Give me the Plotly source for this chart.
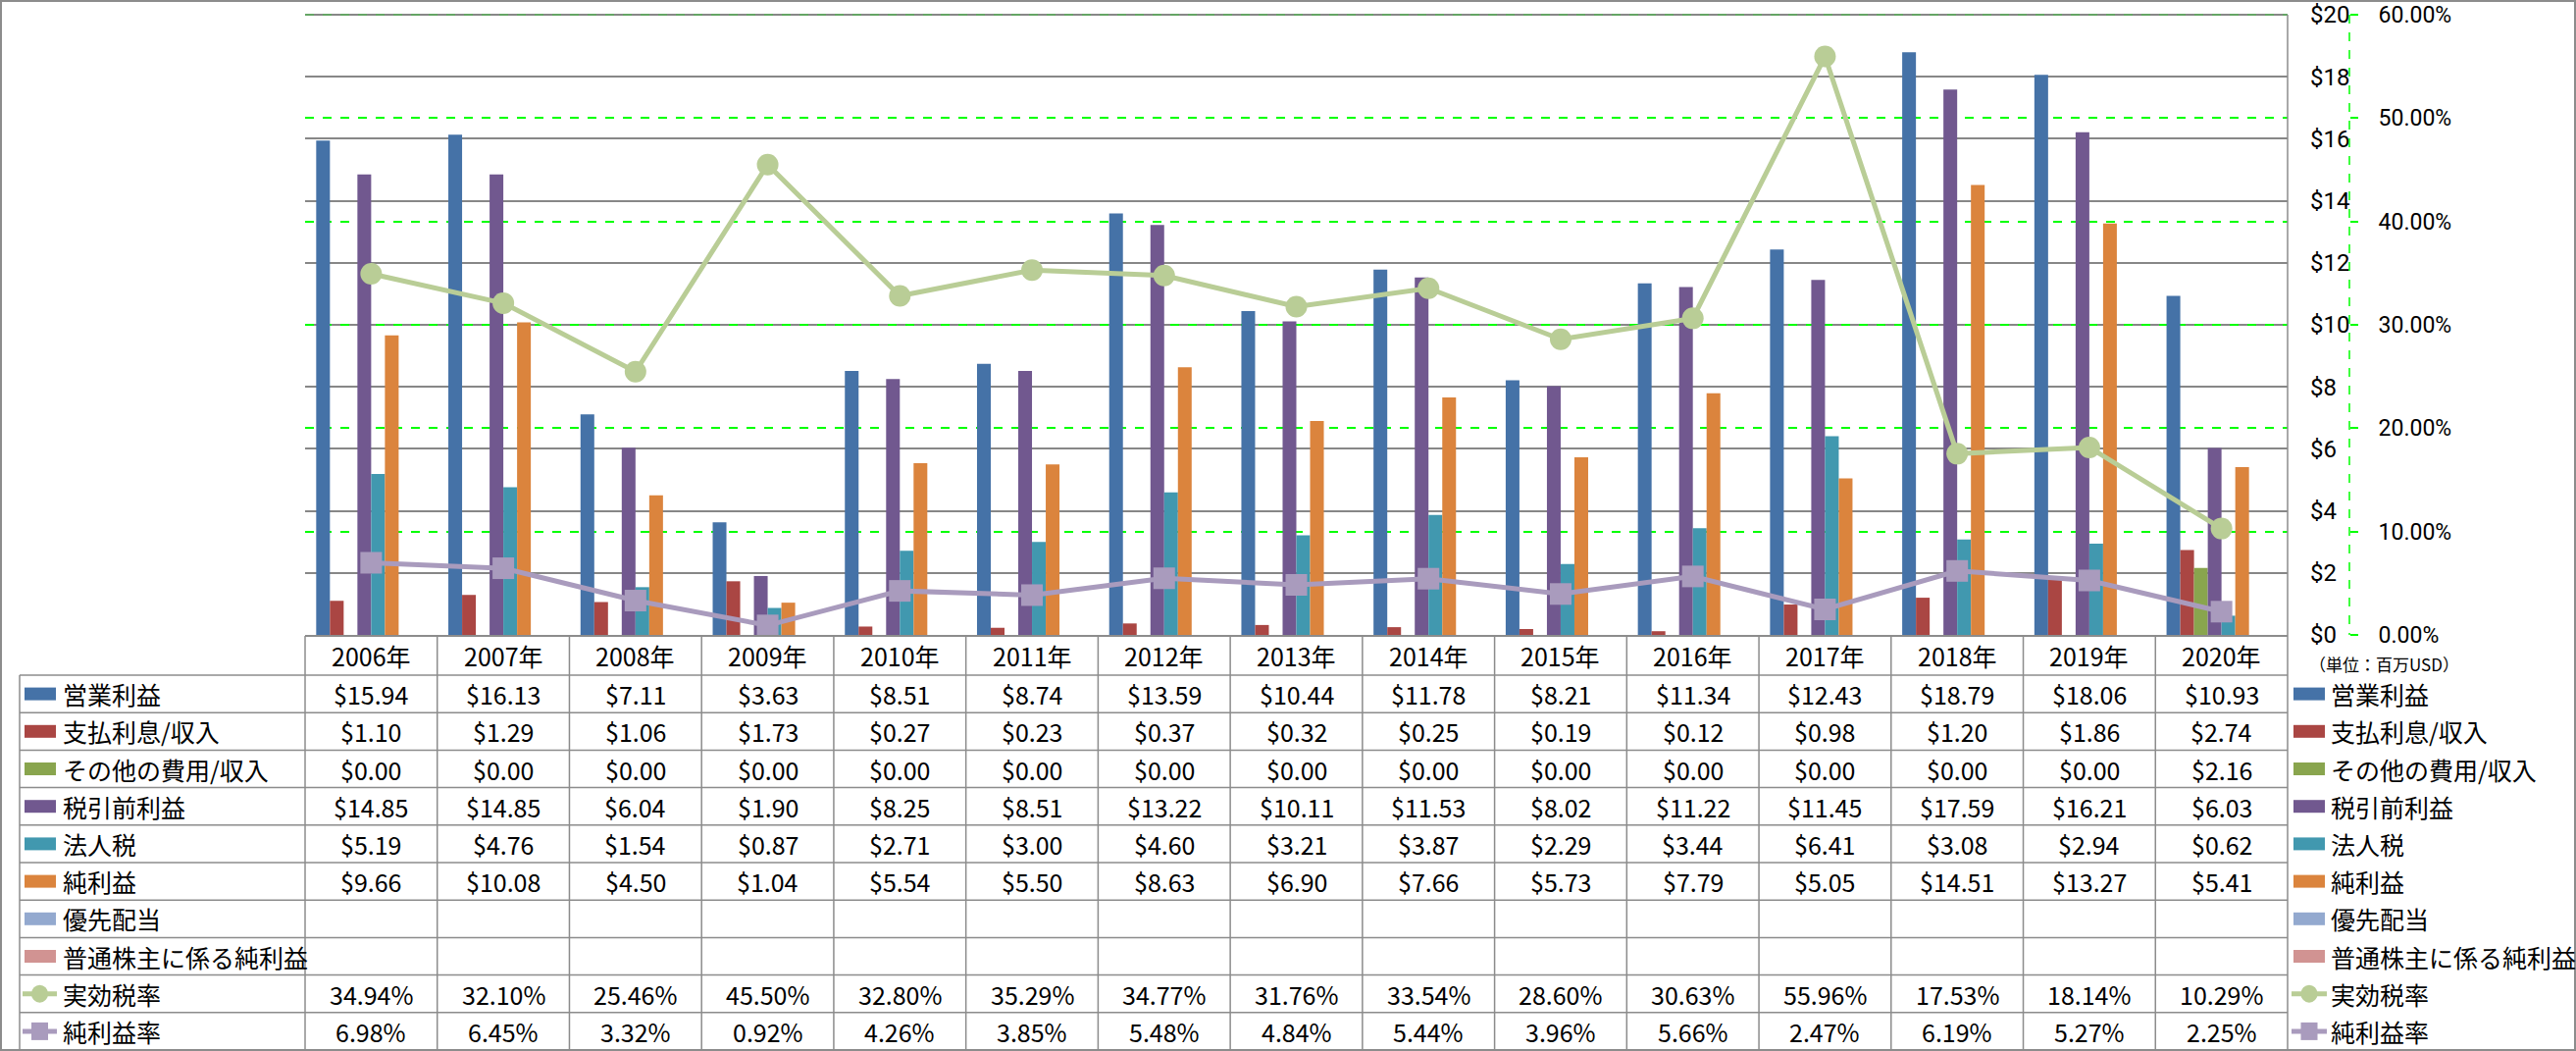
import plotly.graph_objects as go

# ---------------- data ----------------
years = ["2006年", "2007年", "2008年", "2009年", "2010年", "2011年", "2012年", "2013年",
         "2014年", "2015年", "2016年", "2017年", "2018年", "2019年", "2020年"]

op_income = [15.94, 16.13, 7.11, 3.63, 8.51, 8.74, 13.59, 10.44, 11.78, 8.21, 11.34, 12.43, 18.79, 18.06, 10.93]
interest = [1.10, 1.29, 1.06, 1.73, 0.27, 0.23, 0.37, 0.32, 0.25, 0.19, 0.12, 0.98, 1.20, 1.86, 2.74]
other_exp = [0.00, 0.00, 0.00, 0.00, 0.00, 0.00, 0.00, 0.00, 0.00, 0.00, 0.00, 0.00, 0.00, 0.00, 2.16]
pretax = [14.85, 14.85, 6.04, 1.90, 8.25, 8.51, 13.22, 10.11, 11.53, 8.02, 11.22, 11.45, 17.59, 16.21, 6.03]
corp_tax = [5.19, 4.76, 1.54, 0.87, 2.71, 3.00, 4.60, 3.21, 3.87, 2.29, 3.44, 6.41, 3.08, 2.94, 0.62]
net_income = [9.66, 10.08, 4.50, 1.04, 5.54, 5.50, 8.63, 6.90, 7.66, 5.73, 7.79, 5.05, 14.51, 13.27, 5.41]
pref_div = [None] * 15
common_net = [None] * 15
eff_tax_rate = [34.94, 32.10, 25.46, 45.50, 32.80, 35.29, 34.77, 31.76, 33.54, 28.60, 30.63, 55.96, 17.53, 18.14, 10.29]
net_margin = [6.98, 6.45, 3.32, 0.92, 4.26, 3.85, 5.48, 4.84, 5.44, 3.96, 5.66, 2.47, 6.19, 5.27, 2.25]

bar_names = ["営業利益", "支払利息/収入", "その他の費用/収入", "税引前利益", "法人税", "純利益",
             "優先配当", "普通株主に係る純利益"]
bar_values = [op_income, interest, other_exp, pretax, corp_tax, net_income, pref_div, common_net]
line_names = ["実効税率", "純利益率"]
line_values = [eff_tax_rate, net_margin]

usd_ticks = [0, 2, 4, 6, 8, 10, 12, 14, 16, 18, 20]
pct_ticks = [0, 0.1, 0.2, 0.3, 0.4, 0.5, 0.6]

# ---------------- styles ----------------
bar_colors = ["#4572A7", "#AA4643", "#89A54E", "#71588F", "#4198AF", "#DB843D", "#93A9CF", "#D19392"]
line_colors = ["#B9CD96", "#A99BBD"]
line_symbols = ["circle", "square"]
FONT = "Noto Sans CJK JP"
TICK_FONT = "Roboto"
GRID = "#878787"

W, H = 2626, 1071
PL, PR = 311, 2520          # paper left/right in px
PB = 647                    # plot bottom (value 0)
TOP_VAL_PX = 15             # pixel of the $20 / 60% gridline
EXTRA = 4                   # small headroom so the top gridline is drawn
PT = TOP_VAL_PX - EXTRA
USD_MAX = usd_ticks[-1] * (PB - PT) / (PB - TOP_VAL_PX)
PCT_MAX = pct_ticks[-1] * (PB - PT) / (PB - TOP_VAL_PX)
PLOT_R = 2332


def px(x):
    return (x - PL) / (PR - PL)


def py(y):
    return (PB - y) / (PB - PT)


fig = go.Figure()
for name, vals, col in zip(bar_names, bar_values, bar_colors):
    fig.add_trace(go.Bar(x=years, y=vals, name=name, marker=dict(color=col, line=dict(width=0)),
                         showlegend=False, yaxis="y"))
for name, vals, col, sym in zip(line_names, line_values, line_colors, line_symbols):
    fig.add_trace(go.Scatter(x=years, y=[v / 100 for v in vals], name=name, yaxis="y2",
                             mode="lines+markers", line=dict(color=col, width=5),
                             marker=dict(symbol=sym, size=22, color=col), showlegend=False))

shapes = []
annotations = []


def hline(x0, x1, y, color="#8C8C8C", width=1.5):
    shapes.append(dict(type="line", xref="paper", yref="paper", x0=px(x0), x1=px(x1), y0=py(y), y1=py(y),
                       line=dict(color=color, width=width)))


def vline(x, y0, y1, color="#8C8C8C", width=1.5, xref="paper", dash=None):
    xv = px(x) if xref == "paper" else x
    ln = dict(color=color, width=width)
    if dash:
        ln["dash"] = dash
    shapes.append(dict(type="line", xref=xref, yref="paper", x0=xv, x1=xv, y0=py(y0), y1=py(y1), line=ln))


# outer border
shapes.append(dict(type="rect", xref="paper", yref="paper", x0=px(1), x1=px(2625), y0=py(1), y1=py(1070),
                   line=dict(color="#8C8C8C", width=2)))

# top primary gridline (solid grey, over the dashed 60% line)
shapes.append(dict(type="line", xref="x domain", yref="y", x0=0, x1=1, y0=usd_ticks[-1], y1=usd_ticks[-1],
                   line=dict(color=GRID, width=1.5)))

# table geometry
HDR_TOP, ROW_TOP, TBL_BOT = 648, 688, 1070
n_rows = len(bar_names) + len(line_names)
ROW_H = (TBL_BOT - ROW_TOP) / n_rows

hline(20, PLOT_R, ROW_TOP)
for i in range(1, n_rows + 1):
    hline(20, PLOT_R, ROW_TOP + i * ROW_H)
vline(20, ROW_TOP, TBL_BOT)
vline(PL, HDR_TOP, TBL_BOT)
for i in range(1, len(years)):
    vline(i - 0.5, HDR_TOP, TBL_BOT, xref="x")
vline(PLOT_R, TOP_VAL_PX, TBL_BOT)

# secondary axis dashed line
vline(2395, TOP_VAL_PX, PB, color="#00FF00", dash="dash")


def text(x, y, s, size=25, xanchor="center", xref="paper"):
    annotations.append(dict(x=px(x) if xref == "paper" else x, y=py(y), xref=xref, yref="paper", text=s,
                            showarrow=False, xanchor=xanchor, yanchor="middle",
                            font=dict(family=FONT, size=size, color="black")))


# header
for i, yr in enumerate(years):
    text(i, (HDR_TOP + ROW_TOP) / 2, yr, xref="x")


def icon(x0, x1, ymid, kind, col, sym=None):
    if kind == "bar":
        shapes.append(dict(type="rect", xref="paper", yref="paper", x0=px(x0), x1=px(x1),
                           y0=py(ymid + 6.5), y1=py(ymid - 6.5), fillcolor=col, line=dict(width=0)))
    else:
        shapes.append(dict(type="line", xref="paper", yref="paper", x0=px(x0), x1=px(x1),
                           y0=py(ymid), y1=py(ymid), line=dict(color=col, width=5)))
        cx = (x0 + x1) / 2
        shapes.append(dict(type="circle" if sym == "circle" else "rect", xref="paper", yref="paper",
                           x0=px(cx - 8.5), x1=px(cx + 8.5), y0=py(ymid + 9), y1=py(ymid - 9),
                           fillcolor=col, line=dict(width=0)))


row = 0
for name, vals, col in zip(bar_names, bar_values, bar_colors):
    ym = ROW_TOP + (row + 0.5) * ROW_H
    icon(25, 57, ym, "bar", col)
    text(62, ym, name, size=25, xanchor="left")
    icon(2338, 2370, ym, "bar", col)
    text(2374, ym, name, size=25, xanchor="left")
    for i, v in enumerate(vals):
        if v is not None:
            text(i, ym, f"${v:.2f}", xref="x")
    row += 1
for name, vals, col, sym in zip(line_names, line_values, line_colors, line_symbols):
    ym = ROW_TOP + (row + 0.5) * ROW_H
    icon(23, 58, ym, "line", col, sym)
    text(62, ym, name, size=25, xanchor="left")
    icon(2336, 2372, ym, "line", col, sym)
    text(2374, ym, name, size=25, xanchor="left")
    for i, v in enumerate(vals):
        if v is not None:
            text(i, ym, f"{v:.2f}%", xref="x")
    row += 1

text(2352, 676, "（単位：百万USD）", size=17, xanchor="left")

fig.update_layout(
    width=W, height=H,
    margin=dict(l=PL, r=W - PR, t=PT, b=H - PB, pad=0, autoexpand=False),
    paper_bgcolor="white", plot_bgcolor="white",
    barmode="group", bargap=0.168, bargroupgap=0,
    font=dict(family=FONT, size=24, color="black"),
    xaxis=dict(type="category", domain=[0, px(PLOT_R)], range=[-0.5, 14.5], showline=True,
               linecolor="#8C8C8C", linewidth=1.5, showticklabels=False, showgrid=False, ticks="",
               automargin=False),
    yaxis=dict(range=[0, USD_MAX], tickvals=usd_ticks, ticktext=[f"${v}" for v in usd_ticks],
               side="right", showgrid=True, gridcolor=GRID, automargin=False,
               gridwidth=1.5, showline=False, ticks="", ticklabeloverflow="allow",
               ticklabelstandoff=22, zeroline=False, tickfont=dict(size=24, family=TICK_FONT)),
    yaxis2=dict(overlaying="y", anchor="free", position=px(2395), side="right", range=[0, PCT_MAX],
                tickvals=pct_ticks, ticktext=[f"{v * 100:.2f}%" for v in pct_ticks], automargin=False,
                showgrid=True, gridcolor="#00FF00", griddash="dash", ticklabeloverflow="allow",
                gridwidth=1.5, ticks="outside", ticklen=8, tickcolor="#00FF00", tickwidth=1.5,
                showline=False, zeroline=False, ticklabelstandoff=16,
                tickfont=dict(size=23, family=TICK_FONT)),
    shapes=shapes, annotations=annotations,
)

fig.write_html("out.html", config={"displayModeBar": False},
               post_script="document.body.style.margin='0';document.body.style.overflow='hidden';")
